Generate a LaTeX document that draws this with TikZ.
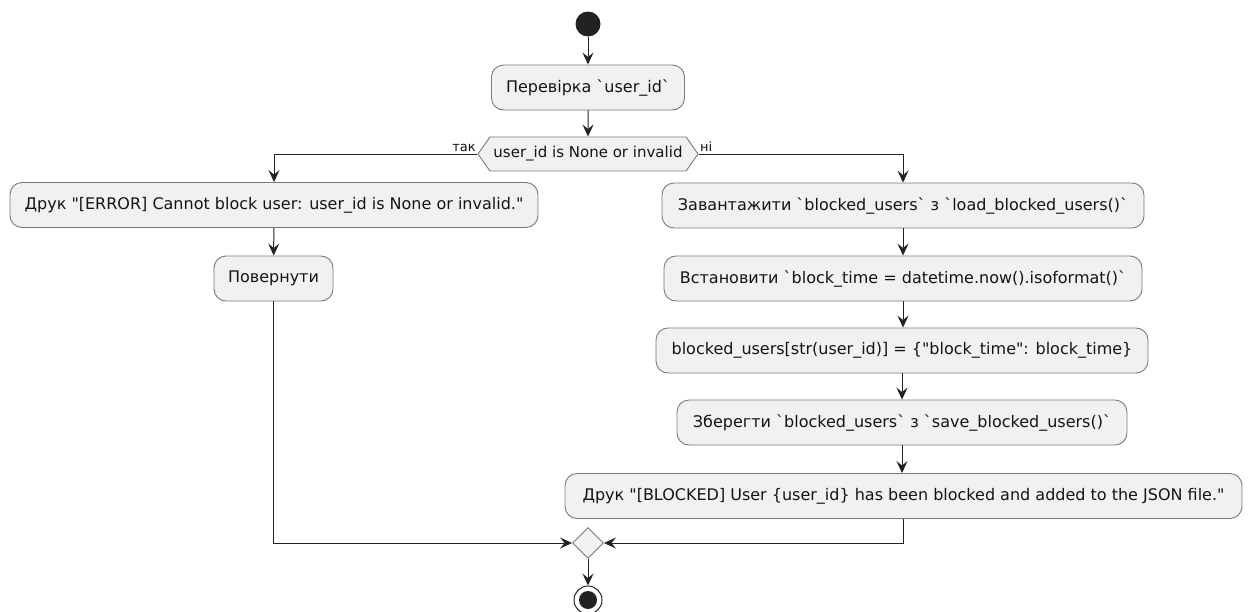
\documentclass[tikz,border=0pt]{standalone}
\usepackage{fontspec}
\setmainfont{DejaVu Sans}[Ligatures=TeXOff]
\usetikzlibrary{arrows.meta,shapes.geometric,shapes.symbols}
\definecolor{boxfill}{HTML}{F1F1F1}
\definecolor{boxline}{HTML}{7A7A7A}
\definecolor{flow}{HTML}{222222}
\tikzset{
  act/.style={draw=boxline, fill=boxfill, line width=0.9pt, rounded corners=12pt,
    minimum height=45pt, inner sep=0pt, font=\fontsize{16}{18}\selectfont, text=black!92},
  cond/.style={draw=boxline, fill=boxfill, line width=0.9pt, shape=signal,
    signal to=west and east, signal pointer angle=110, minimum height=34pt,
    inner sep=0pt, font=\fontsize{15}{17}\selectfont, text=black!92},
  merge/.style={draw=boxline, fill=boxfill, line width=0.9pt, shape=diamond,
    minimum width=31pt, minimum height=31pt, inner sep=0pt},
  lbl/.style={font=\fontsize{13}{15}\selectfont, inner sep=1pt, text=black!92},
  flowline/.style={draw=flow, line width=1pt},
  arr/.style={flowline, -{Stealth[length=12pt,width=11pt,inset=4.5pt]}},
}
\begin{document}
\begin{tikzpicture}[x=1pt,y=-1pt]
\useasboundingbox (0,0) rectangle (1248,611);
% start and end markers
\node[circle, fill=flow, minimum size=25pt, inner sep=0pt] (start) at (588,24) {};
\node[circle, draw=flow, line width=1pt, fill=white, minimum size=28pt, inner sep=0pt] (stop) at (588,600) {};
\fill[flow] (stop.center) circle[radius=9pt];
% main check
\node[act, minimum width=193pt] (check) at (588,87.5) {Перевірка `user\_id`};
\node[cond, minimum width=220pt] (dec) at (588,154) {user\_id is None or invalid};
\node[lbl, anchor=south east] (yes) at (477,153) {так};
\node[lbl, anchor=south west] (no) at (699,153) {ні};
% left branch
\node[act, minimum width=528pt] (err) at (274,205) {Друк "[ERROR] Cannot block user: user\_id is None or invalid."};
\node[act, minimum width=119pt] (ret) at (273.5,278.5) {Повернути};
% right branch
\node[act, minimum width=482pt] (load) at (903,205.5) {Завантажити `blocked\_users` з `load\_blocked\_users()`};
\node[act, minimum width=478pt] (settime) at (903,278.5) {Встановити `block\_time = datetime.now().isoformat()`};
\node[act, minimum width=492pt] (assign) at (902,350.5) {blocked\_users[str(user\_id)] = \{"block\_time": block\_time\}};
\node[act, minimum width=450pt] (save) at (902,422.5) {Зберегти `blocked\_users` з `save\_blocked\_users()`};
\node[act, minimum width=677pt] (print) at (903.5,496) {Друк "[BLOCKED] User \{user\_id\} has been blocked and added to the JSON file."};
\node[merge] (join) at (588,543) {};
% connectors
\draw[arr] (start) -- (check);
\draw[arr] (check) -- (dec);
\draw[arr] (dec.west) -| (err.north);
\draw[arr] (dec.east) -| (load.north);
\draw[arr] (err) -- (ret);
\draw[arr] (load) -- (settime);
\draw[arr] (settime.south) -- (settime.south |- assign.north);
\draw[arr] (assign) -- (save);
\draw[arr] (save.south) -- (save.south |- print.north);
\draw[arr] (ret.south) |- (join.west);
\draw[arr] (print.south) |- (join.east);
\draw[arr] (join) -- (stop);
\end{tikzpicture}
\end{document}
